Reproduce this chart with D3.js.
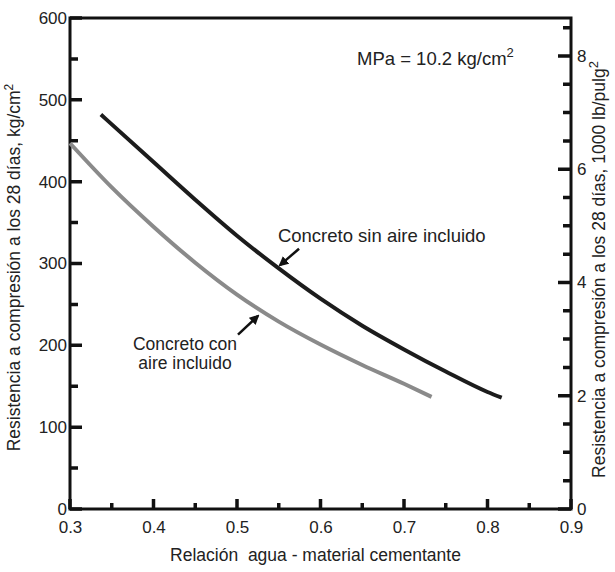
<!DOCTYPE html>
<html>
<head>
<meta charset="utf-8">
<script src="https://cdn.jsdelivr.net/npm/d3@7"></script>
<style>
  body { margin: 0; background: #fff; }
  svg text { font-family: "Liberation Sans", Arial, sans-serif; fill: #222; }
</style>
</head>
<body>
<div id="chart"></div>
<script>
// water-cement ratio vs 28-day compressive strength (kg/cm2)
const sinAireRatio = [0.337, 0.40, 0.45, 0.50, 0.55, 0.60, 0.65, 0.70, 0.75, 0.80, 0.817];
const sinAireKg    = [482, 424, 378, 334, 294, 257, 224, 195, 168, 143, 136];
const conAireRatio = [0.30, 0.35, 0.40, 0.45, 0.50, 0.55, 0.60, 0.65, 0.70, 0.733];
const conAireKg    = [447, 393, 345, 301, 262, 229, 201, 176, 153, 137];

const xTicks = [0.3, 0.4, 0.5, 0.6, 0.7, 0.8, 0.9];
const xMinor = [0.35, 0.45, 0.55, 0.65, 0.75, 0.85];
const yTicks = [0, 100, 200, 300, 400, 500, 600];
const yMinor = [50, 150, 250, 350, 450, 550];
const psiTicks = [0, 2, 4, 6, 8];
const psiMinor = [0.5, 1, 1.5, 2.5, 3, 3.5, 4.5, 5, 5.5, 6.5, 7, 7.5, 8.5];
const kgPerKsi = 69.2; // as drawn on the right axis

const width = 615, height = 572;
const margin = { top: 18, right: 44, bottom: 63, left: 70 };
const w = width - margin.left - margin.right;
const h = height - margin.top - margin.bottom;

const svg = d3.select("#chart").append("svg")
    .attr("width", width)
    .attr("height", height);

const g = svg.append("g")
    .attr("transform", `translate(${margin.left},${margin.top})`);

const x = d3.scaleLinear().domain([0.3, 0.9]).range([0, w]);
const y = d3.scaleLinear().domain([0, 600]).range([h, 0]);
const yR = d3.scaleLinear().domain([0, 600 / kgPerKsi]).range([h, 0]);

// frame
g.append("rect")
    .attr("width", w).attr("height", h)
    .attr("fill", "none")
    .attr("stroke", "#111")
    .attr("stroke-width", 3);

// tick marks as one path, pointing into the plot
const tickPath = d3.path();
xTicks.forEach(d => { tickPath.moveTo(x(d), h); tickPath.lineTo(x(d), h - 10); });
xMinor.forEach(d => { tickPath.moveTo(x(d), h); tickPath.lineTo(x(d), h - 6); });
yTicks.forEach(d => { tickPath.moveTo(0, y(d)); tickPath.lineTo(12, y(d)); });
yMinor.forEach(d => { tickPath.moveTo(0, y(d)); tickPath.lineTo(8, y(d)); });
psiTicks.forEach(d => { tickPath.moveTo(w, yR(d)); tickPath.lineTo(w - 13, yR(d)); });
psiMinor.forEach(d => { tickPath.moveTo(w, yR(d)); tickPath.lineTo(w - 8, yR(d)); });

g.append("path")
    .attr("d", tickPath.toString())
    .attr("fill", "none")
    .attr("stroke", "#111")
    .attr("stroke-width", 3.5);

// tick labels via axis generators (no lines)
function addLabels(axis, tr) {
    const a = g.append("g").call(axis);
    if (tr) a.attr("transform", tr);
    a.select(".domain").remove();
    a.selectAll(".tick line").remove();
    a.selectAll(".tick text")
        .attr("font-family", "Liberation Sans, Arial, sans-serif")
        .attr("font-size", 17)
        .attr("fill", "#222");
}
addLabels(d3.axisBottom(x).tickValues(xTicks).tickSize(0).tickPadding(12).tickFormat(d3.format(".1f")), `translate(0,${h})`);
addLabels(d3.axisLeft(y).tickValues(yTicks).tickSize(0).tickPadding(3));
addLabels(d3.axisRight(yR).tickValues(psiTicks).tickSize(0).tickPadding(6), `translate(${w},0)`);

// curves
const line = d3.line().x(d => x(d[0])).y(d => y(d[1])).curve(d3.curveMonotoneX);

g.append("path")
    .datum(conAireRatio.map((r, i) => [r, conAireKg[i]]))
    .attr("d", line)
    .attr("fill", "none")
    .attr("stroke", "#8a8a8a")
    .attr("stroke-width", 4);

g.append("path")
    .datum(sinAireRatio.map((r, i) => [r, sinAireKg[i]]))
    .attr("d", line)
    .attr("fill", "none")
    .attr("stroke", "#1c1c1c")
    .attr("stroke-width", 4);

// arrows
svg.append("defs").append("marker")
    .attr("id", "head")
    .attr("viewBox", "0 0 10 10")
    .attr("refX", 8).attr("refY", 5)
    .attr("markerWidth", 4).attr("markerHeight", 4)
    .attr("orient", "auto")
    .append("path").attr("d", "M0,0L10,5L0,10z").attr("fill", "#111");

const arrows = [
    { from: [0.5743, 318], to: [0.5515, 298] },
    { from: [0.5012, 213], to: [0.5251, 236] }
];
g.selectAll(".arrow").data(arrows).enter().append("line")
    .attr("x1", d => x(d.from[0])).attr("y1", d => y(d.from[1]))
    .attr("x2", d => x(d.to[0])).attr("y2", d => y(d.to[1]))
    .attr("stroke", "#111")
    .attr("stroke-width", 2.5)
    .attr("marker-end", "url(#head)");

// annotations
g.append("text")
    .attr("x", x(0.549)).attr("y", y(326))
    .attr("font-size", 18.5)
    .text("Concreto sin aire incluido");

g.append("text")
    .attr("x", x(0.4377)).attr("y", y(194))
    .attr("text-anchor", "middle")
    .attr("font-size", 17.5)
    .text("Concreto con");
g.append("text")
    .attr("x", x(0.4377)).attr("y", y(171))
    .attr("text-anchor", "middle")
    .attr("font-size", 17.5)
    .text("aire incluido");

const mpa = g.append("text")
    .attr("x", x(0.6437)).attr("y", y(543))
    .attr("font-size", 18.5);
mpa.append("tspan").text("MPa = 10.2 kg/cm");
mpa.append("tspan").attr("dy", -8).attr("font-size", 13).text("2");

// axis titles
g.append("text")
    .attr("x", w / 2 - 5).attr("y", h + 52)
    .attr("text-anchor", "middle")
    .attr("font-size", 17.5)
    .attr("xml:space", "preserve")
    .text("Relación  agua - material cementante");

const lt = g.append("text")
    .attr("transform", `translate(-50,${h / 2 + 4}) rotate(-90)`)
    .attr("text-anchor", "middle")
    .attr("font-size", 17.5);
lt.append("tspan").text("Resistencia a compresión a los 28 días, kg/cm");
lt.append("tspan").attr("dy", -7).attr("font-size", 12).text("2");

const rt = g.append("text")
    .attr("transform", `translate(${w + 34},${h / 2 + 6}) rotate(-90)`)
    .attr("text-anchor", "middle")
    .attr("font-size", 17.5);
rt.append("tspan").text("Resistencia a compresión a los 28 días, 1000 lb/pulg");
rt.append("tspan").attr("dy", -7).attr("font-size", 13).text("2");
</script>
</body>
</html>
